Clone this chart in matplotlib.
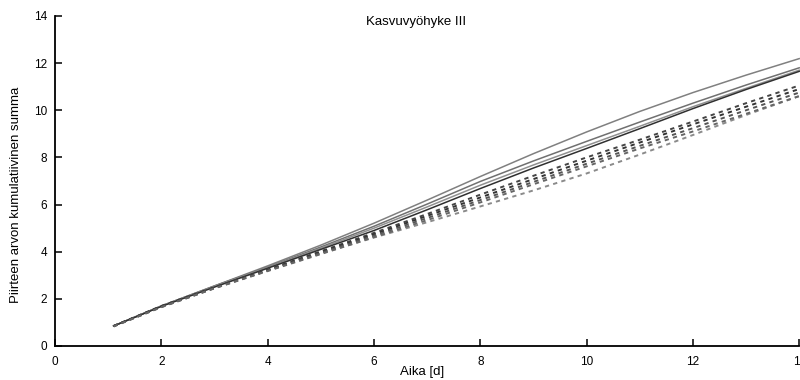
import matplotlib
matplotlib.use("Agg")
import matplotlib.pyplot as plt

plt.rcParams['font.family'] = ['Liberation Sans', 'DejaVu Sans']

days = [1.1, 2, 3, 4, 5, 6, 7, 8, 9, 10, 11, 12, 13, 14]

# solid series
solid_a = [0.85, 1.70, 2.55, 3.40, 4.28, 5.21, 6.19, 7.19, 8.16, 9.08, 9.95, 10.75, 11.49, 12.19]
solid_b = [0.85, 1.70, 2.55, 3.35, 4.20, 5.08, 6.02, 6.98, 7.85, 8.68, 9.50, 10.30, 11.07, 11.80]
solid_c = [0.85, 1.70, 2.53, 3.33, 4.15, 5.00, 5.90, 6.82, 7.68, 8.50, 9.32, 10.15, 10.93, 11.70]
solid_d = [0.85, 1.68, 2.50, 3.30, 4.10, 4.90, 5.78, 6.68, 7.55, 8.38, 9.22, 10.07, 10.88, 11.65]

# dashed series
dash_e = [0.85, 1.65, 2.45, 3.20, 3.92, 4.60, 5.25, 5.92, 6.60, 7.32, 8.12, 8.95, 9.80, 10.60]
dash_f = [0.85, 1.70, 2.50, 3.25, 4.02, 4.80, 5.60, 6.42, 7.22, 8.00, 8.75, 9.52, 10.30, 11.05]
dash_g = [0.85, 1.68, 2.48, 3.22, 3.98, 4.74, 5.52, 6.30, 7.08, 7.86, 8.63, 9.40, 10.15, 10.90]
dash_h = [0.83, 1.66, 2.46, 3.20, 3.95, 4.68, 5.43, 6.19, 6.96, 7.73, 8.49, 9.24, 10.00, 10.75]
dash_i = [0.83, 1.65, 2.45, 3.18, 3.90, 4.62, 5.34, 6.09, 6.86, 7.62, 8.38, 9.10, 9.85, 10.60]

xticks = [0, 2, 4, 6, 8, 10, 12, 14]
yticks = [0, 2, 4, 6, 8, 10, 12, 14]

fig = plt.figure(figsize=(8, 3.8), dpi=100)
ax = fig.add_axes([0.069, 0.0895, 0.930, 0.8685])

for ys, col in [(solid_a, '#808080'), (solid_b, '#707070'), (solid_c, '#909090'), (solid_d, '#303030')]:
    ax.plot(days, ys, color=col, lw=1.1, ls='-', clip_on=False)

for ys, col in [(dash_e, '#8a8a8a'), (dash_f, '#444444'), (dash_g, '#333333'),
                (dash_h, '#555555'), (dash_i, '#666666')]:
    ax.plot(days, ys, color=col, lw=1.4, ls=(0, (2.2, 2.2)), clip_on=False)

ax.set_xlim(0, 14)
ax.set_ylim(0, 14)
ax.set_xticks(xticks)
ax.set_yticks(yticks)
ax.spines['top'].set_visible(False)
ax.spines['right'].set_visible(False)
for s in ['left', 'bottom']:
    ax.spines[s].set_linewidth(1.3)
    ax.spines[s].set_color('black')
ax.tick_params(axis='both', direction='in', length=5, width=1.1, labelsize=8.5)
ax.tick_params(axis='x', pad=7)
ax.tick_params(axis='y', pad=6)

ax.set_xlabel('Aika [d]', fontsize=9.5)
ax.xaxis.set_label_coords(0.493, -0.062)
ax.set_ylabel('Piirteen arvon kumulatiivinen summa', fontsize=9.5)
ax.yaxis.set_label_coords(-0.044, 0.458)

ax.text(0.485, 0.982, 'Kasvuvyöhyke III', transform=ax.transAxes,
        ha='center', va='center', fontsize=9.5)

fig.savefig('out.png', dpi=100)
